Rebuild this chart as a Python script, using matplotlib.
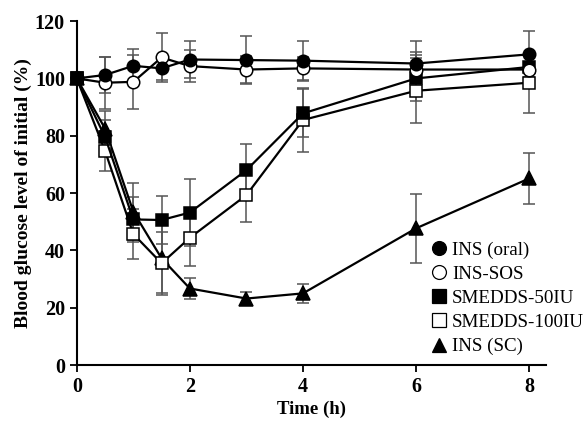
import matplotlib
matplotlib.use('Agg')
import matplotlib.pyplot as plt

## DATA
time = [0, 0.5, 1, 1.5, 2, 3, 4, 6, 8]

ins_oral = [100, 101.2, 104.4, 103.5, 106.6, 106.4, 106.2, 105.2, 108.4]
ins_oral_err = [0, 6.3, 6.0, 4.0, 6.5, 8.5, 7.0, 8.0, 8.0]

ins_sos = [100, 98.5, 98.8, 107.3, 104.3, 103.1, 103.5, 103.1, 103.1]
ins_sos_err = [0, 9.0, 9.3, 8.5, 5.5, 4.6, 4.0, 6.0, 5.0]

smedds50 = [100, 79.6, 50.8, 50.6, 53.2, 68.0, 87.8, 100.0, 104.0]
smedds50_err = [0, 6.0, 8.0, 8.4, 11.7, 9.0, 8.4, 8.0, 5.0]

smedds100 = [100, 74.7, 45.7, 35.5, 44.4, 59.3, 85.5, 95.7, 98.5]
smedds100_err = [0, 7.0, 8.7, 11.0, 10.0, 9.3, 11.0, 11.4, 10.5]

ins_sc = [100, 82.5, 53.5, 37.2, 26.7, 23.2, 25.0, 47.7, 65.1]
ins_sc_err = [0, 6.0, 10.0, 12.0, 3.5, 2.4, 3.2, 12.0, 9.0]

labels = ['INS (oral)', 'INS-SOS', 'SMEDDS-50IU', 'SMEDDS-100IU', 'INS (SC)']
#

plt.rcParams['font.family'] = ['Liberation Serif', 'DejaVu Serif']

fig = plt.figure(figsize=(5.86, 4.22), dpi=100)
ax = fig.add_axes([0.131, 0.135, 0.801, 0.815])

series = [(ins_oral, ins_oral_err, 'o', 'black'),
          (ins_sos, ins_sos_err, 'o', 'white'),
          (smedds50, smedds50_err, 's', 'black'),
          (smedds100, smedds100_err, 's', 'white'),
          (ins_sc, ins_sc_err, '^', 'black')]

handles = []
for i, (y, e, m, fc) in enumerate(series):
    ax.errorbar(time, y, yerr=e, fmt='none', ecolor='#555555', elinewidth=1.1,
                capsize=4, capthick=1.1, zorder=2, clip_on=False)
    ms = 9.5 if m == '^' else 9
    ax.plot(time, y, color='black', lw=1.6, marker=m, markersize=ms,
            markerfacecolor=fc, markeredgecolor='black', markeredgewidth=1.1,
            zorder=3 + (4 - i) * 0.1, clip_on=False)
    handles.append(plt.Line2D([], [], ls='none', marker=m, markersize=ms + 1,
                              markerfacecolor=fc, markeredgecolor='black',
                              markeredgewidth=0.9))

ax.set_xlim(0, 8.3)
ax.set_ylim(0, 120)
ax.set_xticks([0, 2, 4, 6, 8])
ax.set_yticks(range(0, 121, 20))
for s in ['top', 'right']:
    ax.spines[s].set_visible(False)
for s in ['left', 'bottom']:
    ax.spines[s].set_linewidth(1.5)
ax.tick_params(direction='out', length=5, width=1.3, labelsize=14.5)
for lab in ax.get_xticklabels() + ax.get_yticklabels():
    lab.set_fontweight('bold')

ax.set_xlabel('Time (h)', fontsize=13.5, fontweight='bold', labelpad=3)
ax.set_ylabel('Blood glucose level of initial (%)', fontsize=14, fontweight='bold', labelpad=2)

ax.legend(handles, labels, loc='upper left', bbox_to_anchor=(0.755, 0.36),
          frameon=False, fontsize=13.7, handlelength=0.8, handletextpad=0.3,
          labelspacing=0.36, borderpad=0, borderaxespad=0)

fig.savefig('out.png', dpi=100)
